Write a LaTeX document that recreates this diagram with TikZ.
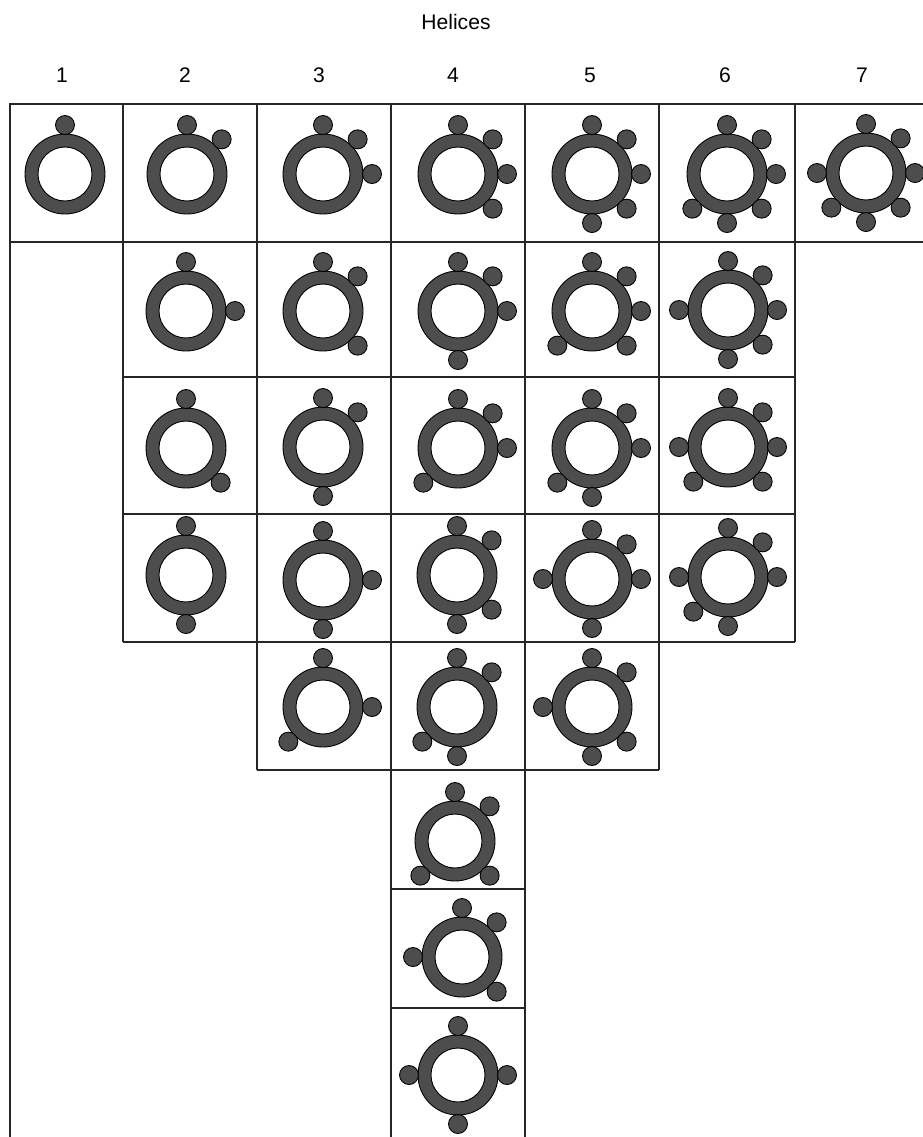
\documentclass[tikz,border=0pt]{standalone}
\usepackage{fontspec}
\setmainfont{Liberation Sans}
\definecolor{ringgray}{HTML}{4D4D4D}
\begin{document}
\begin{tikzpicture}[x=0.02cm, y=-0.02cm, every node/.style={font=\fontsize{12}{14}\selectfont},
    ring/.style={draw=black, fill=ringgray, even odd rule, line width=0.5pt},
    ball/.style={draw=black, fill=ringgray, line width=0.5pt},
    grid/.style={draw=black!85, line width=0.6pt}]
  \useasboundingbox (0,0) rectangle (923,1137);

  % heading and column numbers
  \node (title) at (456,22) {Helices};
  \foreach \n/\x in {1/62,2/185,3/319,4/453,5/590,6/725,7/862}
    \node (num\n) at (\x,75) {\n};

  % table lines
  \draw[grid] (10,1137) -- (10,104) -- (923,104);
  \draw[grid] (10,242) -- (923,242);
  \draw[grid] (123,377) -- (795,377);
  \draw[grid] (123,514) -- (795,514);
  \draw[grid] (123,642) -- (795,642);
  \draw[grid] (257,770) -- (659,770);
  \draw[grid] (391,889) -- (525,889);
  \draw[grid] (391,1008) -- (525,1008);
  \draw[grid] (123,104) -- (123,642);
  \draw[grid] (257,104) -- (257,770);
  \draw[grid] (391,104) -- (391,1137);
  \draw[grid] (525,104) -- (525,1137);
  \draw[grid] (659,104) -- (659,770);
  \draw[grid] (795,104) -- (795,642);

  % rings: centre / ball angles (clockwise from the right, y runs down)
  \foreach \cx/\cy/\angs in {
      65/174/{-90}, 187/174/{-90,-45}, 323/174/{-90,-45,0},
      458/174/{-90,-45,0,45}, 592/174/{-90,-45,0,45,90},
      727/174/{-90,-45,0,45,90,135}, 866/173/{-90,-45,0,45,90,135,180},
      186/311/{-90,0}, 323/311/{-90,-45,45}, 458/311/{-90,-45,0,90},
      592/311/{-90,-45,0,45,135}, 728/310/{-90,-45,0,45,90,180},
      186/448/{-90,45}, 323/447/{-90,-45,90}, 458/448/{-90,-45,0,135},
      592/448/{-90,-45,0,135,90}, 728/447/{-90,-45,0,45,135,180},
      186/575/{-90,90}, 323/580/{-90,0,90}, 457/575/{-90,-45,45,90},
      592/579/{-90,-45,0,90,180}, 728/577/{-90,-45,0,90,135,180},
      323/707/{-90,0,135}, 457/707/{-90,-45,135,90}, 592/707/{-90,-45,45,90,180},
      455/841/{-90,-45,135,45},
      462/957/{-90,-45,45,180},
      458/1075/{-90,0,90,180}}{
    \draw[ring] (\cx,\cy) circle (40) (\cx,\cy) circle (27);
    \foreach \a in \angs
      \draw[ball] (\cx,\cy) ++(\a:49) circle (9.5);
  }
\end{tikzpicture}
\end{document}
